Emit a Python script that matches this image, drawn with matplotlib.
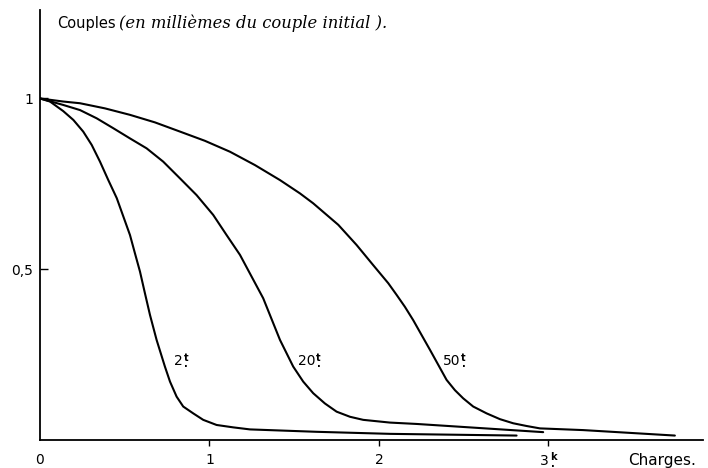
import matplotlib
matplotlib.use("Agg")
import matplotlib.pyplot as plt

# values (charge, couple fraction)
charge_2t = [0, 0.059, 0.137, 0.197, 0.255, 0.305, 0.354, 0.403, 0.453, 0.492,
             0.531, 0.560, 0.590, 0.619, 0.649, 0.688, 0.737, 0.767, 0.806, 0.845,
             0.904, 0.963, 1.042, 1.140, 1.239, 1.632, 2.065, 2.812]
couple_2t = [1, 0.991, 0.963, 0.937, 0.903, 0.864, 0.815, 0.761, 0.708, 0.654,
             0.600, 0.547, 0.493, 0.430, 0.366, 0.293, 0.215, 0.171, 0.127, 0.098,
             0.078, 0.059, 0.044, 0.037, 0.031, 0.024, 0.018, 0.013]

charge_20t = [0, 0.137, 0.236, 0.334, 0.432, 0.531, 0.629, 0.727, 0.826, 0.924,
              1.022, 1.101, 1.180, 1.249, 1.317, 1.416, 1.455, 1.494, 1.553, 1.612,
              1.681, 1.750, 1.829, 1.907, 2.065, 2.222, 2.596, 2.969]
couple_20t = [1, 0.981, 0.966, 0.942, 0.913, 0.883, 0.854, 0.815, 0.766, 0.717,
              0.659, 0.600, 0.542, 0.478, 0.415, 0.293, 0.254, 0.215, 0.171, 0.137,
              0.107, 0.083, 0.068, 0.059, 0.051, 0.047, 0.035, 0.023]

charge_50t = [0, 0.137, 0.236, 0.383, 0.531, 0.678, 0.826, 0.973, 1.121, 1.268,
              1.416, 1.534, 1.612, 1.760, 1.868, 1.966, 2.055, 2.104, 2.153, 2.202,
              2.252, 2.301, 2.350, 2.399, 2.448, 2.497, 2.556, 2.635, 2.714, 2.792,
              2.871, 2.950, 3.205, 3.746]
couple_50t = [1, 0.991, 0.986, 0.971, 0.952, 0.930, 0.903, 0.876, 0.844, 0.805,
              0.761, 0.722, 0.693, 0.630, 0.571, 0.512, 0.459, 0.425, 0.390, 0.351,
              0.307, 0.264, 0.220, 0.176, 0.146, 0.122, 0.098, 0.078, 0.061, 0.049,
              0.041, 0.034, 0.029, 0.013]

x_tick_labels = ["0", "1", "2"]
y_ticks = [0.5, 1]
y_tick_labels = ["0,5", "1"]

FONT = "DejaVu Sans"


def sup_label(ax, x, y, base, sup, size=10):
    # base number, then a small superscript letter with a dot under it
    t = ax.text(x, y, base, ha="left", va="baseline", fontsize=size, family=FONT)
    ax.annotate(sup + "\n.", xy=(1, 1.12), xycoords=t, xytext=(0.8, 0),
                textcoords="offset points", ha="left", va="top",
                multialignment="center", linespacing=0.55,
                fontsize=size * 0.7, family=FONT, fontweight="bold")
    return t


fig = plt.figure(figsize=(7.08, 4.68), dpi=100)
ax = fig.add_axes([40 / 708, 28 / 468, 663 / 708, 430 / 468])

for xs, ys in [(charge_2t, couple_2t), (charge_20t, couple_20t), (charge_50t, couple_50t)]:
    ax.plot(xs, ys, color="black", lw=1.5, solid_capstyle="round", solid_joinstyle="round")

ax.set_xlim(0, 3.912)
ax.set_ylim(0, 1.259)
for side in ["top", "right"]:
    ax.spines[side].set_visible(False)
for side in ["left", "bottom"]:
    ax.spines[side].set_linewidth(1.3)
    ax.spines[side].set_color("black")

ax.set_xticks([1, 2, 3])
ax.set_xticklabels([])
ax.tick_params(axis="x", direction="out", length=4, width=1)
ax.set_yticks(y_ticks)
ax.set_yticklabels(y_tick_labels, fontsize=10, family=FONT)
ax.tick_params(axis="y", direction="in", length=6, width=1, pad=5)

# x tick labels drawn as text so "3k" can carry its superscript
for i, lab in enumerate(x_tick_labels):
    ax.text(i, -0.059, lab, ha="center", va="center", fontsize=10, family=FONT)
sup_label(ax, 2.95, -0.073, "3", "k")
ax.text(3.47, -0.059, "Charges.", ha="left", va="center", fontsize=11, family=FONT)

# curve labels
sup_label(ax, 0.79, 0.219, "2", "t")
sup_label(ax, 1.52, 0.219, "20", "t")
sup_label(ax, 2.375, 0.219, "50", "t")

# title
fig.text(57 / 708, 1 - 28 / 468, "Couples", ha="left", va="baseline",
         fontsize=10.5, family=FONT)
fig.text(119 / 708, 1 - 28 / 468, "(en millièmes du couple initial ).",
         ha="left", va="baseline", fontsize=11.8, family="DejaVu Serif",
         style="italic")

fig.savefig("out.png", dpi=100)
